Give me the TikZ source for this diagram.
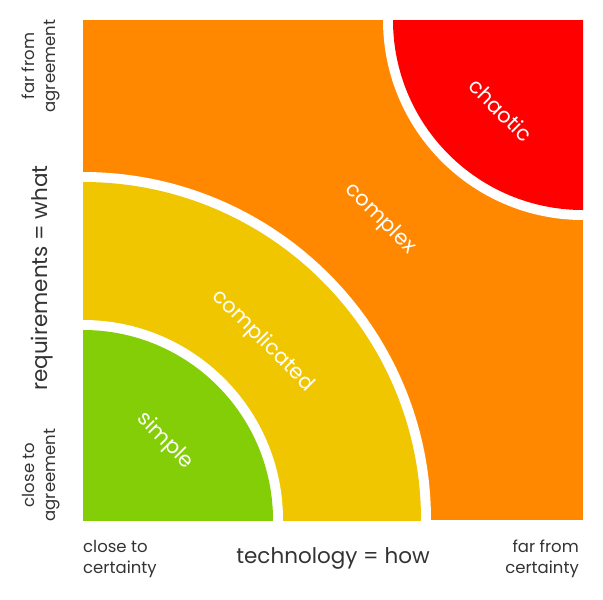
\documentclass[tikz,border=0pt]{standalone}
\usepackage{fontspec}
\setmainfont{Poppins}
\begin{document}
\begin{tikzpicture}[x=1pt,y=-1pt,
  inlabel/.style={text=white,font=\fontsize{21}{24}\selectfont,rotate=-45,inner sep=0pt},
  axlabel/.style={text=black!80,font=\fontsize{16.5}{21.5}\selectfont,inner sep=0pt,align=center},
  axtitle/.style={text=black!80,font=\fontsize{21.5}{24}\selectfont,inner sep=0pt}]
\definecolor{cOrange}{HTML}{FF8800}
\definecolor{cRed}{HTML}{FF0000}
\definecolor{cYellow}{HTML}{F0C600}
\definecolor{cGreen}{HTML}{84CE08}
\useasboundingbox (0,0) rectangle (603,600);
\fill[cOrange] (83,20) rectangle (583,520);
\begin{scope}
\clip (83,20) rectangle (583,520);
\fill[white] (83,520) circle[radius=348];
\fill[cYellow] (83,520) circle[radius=338];
\fill[white] (83,520) circle[radius=200];
\fill[cGreen] (83,520) circle[radius=190];
\fill[white] (583,20) circle[radius=200];
\fill[cRed] (583,20) circle[radius=190];
\end{scope}
\node[inlabel] (chaotic) at (501,110) {chaotic};
\node[inlabel] (complex) at (380,219) {complex};
\node[inlabel] (complicated) at (263,341) {complicated};
\node[inlabel] (simple) at (165,441) {simple};
\node[axtitle,rotate=90] (req) at (42,278) {requirements = what};
\node[axlabel,rotate=90] (farA) at (41,66) {far from\\agreement};
\node[axlabel,rotate=90] (closeA) at (41,475) {close to\\agreement};
\node[axtitle] (tech) at (333,558) {technology = how};
\node[axlabel,align=left,anchor=west] (closeC) at (83,559) {close to\\certainty};
\node[axlabel,align=right,anchor=east] (farC) at (579,559) {far from\\certainty};
\end{tikzpicture}
\end{document}
